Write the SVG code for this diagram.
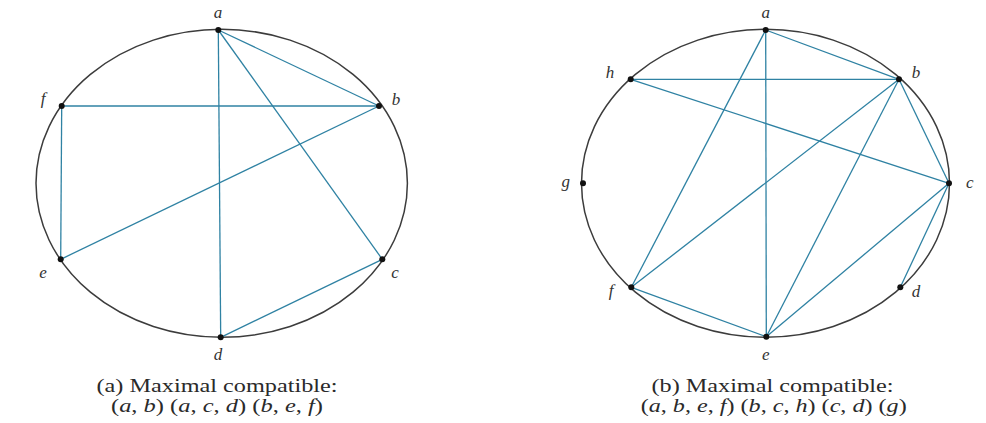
<svg xmlns="http://www.w3.org/2000/svg" width="986" height="423" viewBox="0 0 986 423">
<style>
.ring{fill:none;stroke:#3c3c3c;stroke-width:1.5}
.edge{stroke:#2f82a3;stroke-width:1.3;fill:none}
.dot{fill:#111}
.lbl{font-family:"Liberation Serif",serif;font-style:italic;font-size:17px;fill:#333;text-anchor:middle}
.cap{font-family:"Liberation Serif",serif;font-size:18px;fill:#2a2a2a;text-anchor:middle}
.it{font-style:italic}
</style>
<rect width="986" height="423" fill="#ffffff"/>
<g id="panel-a">
<ellipse class="ring" cx="221.7" cy="183.3" rx="185.7" ry="154"/>
<g id="edges-a">
<line class="edge" x1="218.3" y1="30" x2="220.7" y2="337.3"/>
<line class="edge" x1="218.3" y1="30" x2="379" y2="106"/>
<line class="edge" x1="218.3" y1="30" x2="382.3" y2="259.3"/>
<line class="edge" x1="61.7" y1="106" x2="379" y2="106"/>
<line class="edge" x1="61.7" y1="106" x2="60.7" y2="259.3"/>
<line class="edge" x1="60.7" y1="259.3" x2="379" y2="106"/>
<line class="edge" x1="220.7" y1="337.3" x2="382.3" y2="259.3"/>
</g>
<g id="a-a"><circle class="dot" cx="218.3" cy="30" r="3"/><text class="lbl" x="218" y="18">a</text></g>
<g id="a-b"><circle class="dot" cx="379" cy="106" r="3"/><text class="lbl" x="396" y="105">b</text></g>
<g id="a-c"><circle class="dot" cx="382.3" cy="259.3" r="3"/><text class="lbl" x="395" y="278">c</text></g>
<g id="a-d"><circle class="dot" cx="220.7" cy="337.3" r="3"/><text class="lbl" x="218" y="360">d</text></g>
<g id="a-e"><circle class="dot" cx="60.7" cy="259.3" r="3"/><text class="lbl" x="43" y="278">e</text></g>
<g id="a-f"><circle class="dot" cx="61.7" cy="106" r="3"/><text class="lbl" x="43" y="104">f</text></g>
<text class="cap" x="217" y="392" textLength="241" lengthAdjust="spacingAndGlyphs">(a) Maximal compatible:</text>
<text class="cap" x="217" y="412" textLength="212" lengthAdjust="spacingAndGlyphs">(<tspan class="it">a</tspan>, <tspan class="it">b</tspan>) (<tspan class="it">a</tspan>, <tspan class="it">c</tspan>, <tspan class="it">d</tspan>) (<tspan class="it">b</tspan>, <tspan class="it">e</tspan>, <tspan class="it">f</tspan>)</text>
</g>
<g id="panel-b">
<ellipse class="ring" cx="765.5" cy="183.3" rx="184" ry="154"/>
<g id="edges-b">
<line class="edge" x1="765.7" y1="30" x2="899" y2="79.3"/>
<line class="edge" x1="765.7" y1="30" x2="766.3" y2="336.7"/>
<line class="edge" x1="765.7" y1="30" x2="631.3" y2="287.3"/>
<line class="edge" x1="630.7" y1="79.3" x2="899" y2="79.3"/>
<line class="edge" x1="630.7" y1="79.3" x2="949" y2="183.3"/>
<line class="edge" x1="899" y1="79.3" x2="631.3" y2="287.3"/>
<line class="edge" x1="899" y1="79.3" x2="766.3" y2="336.7"/>
<line class="edge" x1="899" y1="79.3" x2="949" y2="183.3"/>
<line class="edge" x1="949" y1="183.3" x2="766.3" y2="336.7"/>
<line class="edge" x1="949" y1="183.3" x2="900.3" y2="287.3"/>
<line class="edge" x1="631.3" y1="287.3" x2="766.3" y2="336.7"/>
</g>
<g id="b-a"><circle class="dot" cx="765.7" cy="30" r="3"/><text class="lbl" x="765.7" y="18">a</text></g>
<g id="b-b"><circle class="dot" cx="899" cy="79.3" r="3"/><text class="lbl" x="916" y="78">b</text></g>
<g id="b-c"><circle class="dot" cx="949" cy="183.3" r="3"/><text class="lbl" x="969.7" y="188">c</text></g>
<g id="b-d"><circle class="dot" cx="900.3" cy="287.3" r="3"/><text class="lbl" x="916" y="297">d</text></g>
<g id="b-e"><circle class="dot" cx="766.3" cy="336.7" r="3"/><text class="lbl" x="765.7" y="360">e</text></g>
<g id="b-f"><circle class="dot" cx="631.3" cy="287.3" r="3"/><text class="lbl" x="611" y="296">f</text></g>
<g id="b-g"><circle class="dot" cx="583" cy="183.3" r="3"/><text class="lbl" x="565.7" y="187">g</text></g>
<g id="b-h"><circle class="dot" cx="630.7" cy="79.3" r="3"/><text class="lbl" x="610" y="78">h</text></g>
<text class="cap" x="772.5" y="392" textLength="242" lengthAdjust="spacingAndGlyphs">(b) Maximal compatible:</text>
<text class="cap" x="773.7" y="412" textLength="266" lengthAdjust="spacingAndGlyphs">(<tspan class="it">a</tspan>, <tspan class="it">b</tspan>, <tspan class="it">e</tspan>, <tspan class="it">f</tspan>) (<tspan class="it">b</tspan>, <tspan class="it">c</tspan>, <tspan class="it">h</tspan>) (<tspan class="it">c</tspan>, <tspan class="it">d</tspan>) (<tspan class="it">g</tspan>)</text>
</g>
</svg>
